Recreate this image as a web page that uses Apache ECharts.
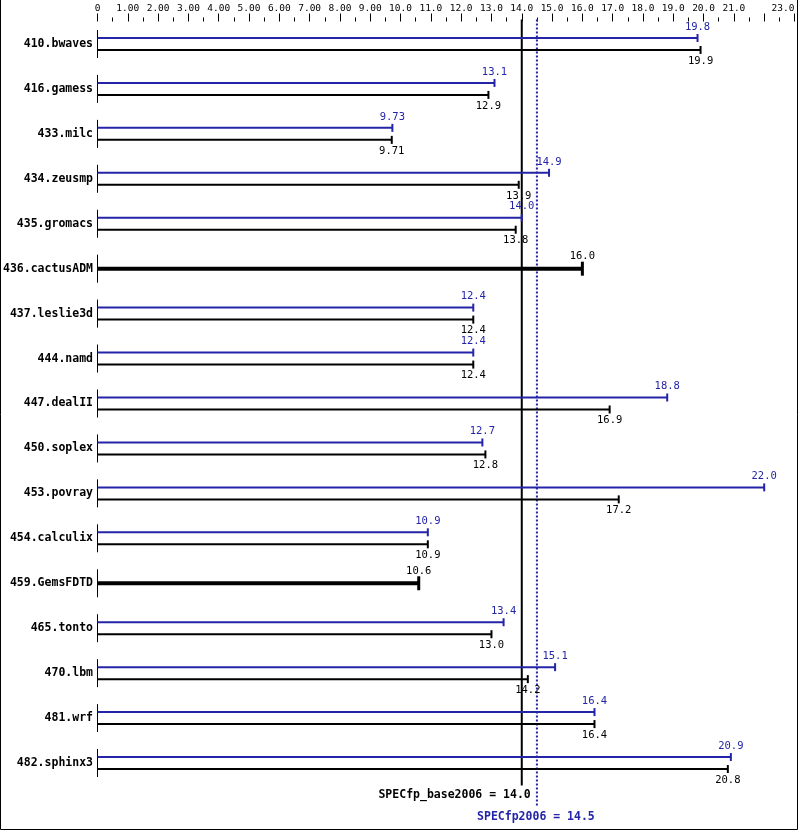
<!DOCTYPE html>
<html>
<head>
    <meta charset="UTF-8">
    <title>SPECfp2006</title>
    <script src="https://cdn.jsdelivr.net/npm/echarts@6/dist/echarts.min.js"></script>
    <style>
        body { margin: 0; background: #fff; }
        #main { width: 799px; height: 831px; }
    </style>
</head>
<body>
    <div id="main"></div>
    <script>
        var benchmarks = ['410.bwaves', '416.gamess', '433.milc', '434.zeusmp', '435.gromacs',
            '436.cactusADM', '437.leslie3d', '444.namd', '447.dealII', '450.soplex', '453.povray',
            '454.calculix', '459.GemsFDTD', '465.tonto', '470.lbm', '481.wrf', '482.sphinx3'];
        // null = no peak result (base only)
        var peakValues = [19.8, 13.1, 9.73, 14.9, 14.0, null, 12.4, 12.4, 18.8, 12.7, 22.0,
            10.9, null, 13.4, 15.1, 16.4, 20.9];
        var baseValues = [19.9, 12.9, 9.71, 13.9, 13.8, 16.0, 12.4, 12.4, 16.9, 12.8, 17.2,
            10.9, 10.6, 13.0, 14.2, 16.4, 20.8];
        var tickLabels = ['0', '1.00', '2.00', '3.00', '4.00', '5.00', '6.00', '7.00', '8.00', '9.00',
            '10.0', '11.0', '12.0', '13.0', '14.0', '15.0', '16.0', '17.0', '18.0', '19.0', '20.0',
            '21.0', '', '23.0'];
        var baseMean = 14.0;
        var peakMean = 14.5;

        var BLUE = '#2424a8';
        var MONO = 'DejaVu Sans Mono';

        function fmt(v) {
            return v < 10 ? v.toFixed(2) : v.toFixed(1);
        }

        var chart = echarts.init(document.getElementById('main'));

        function barItem(isPeak) {
            return function (params, api) {
                var v = api.value(0);
                var i = api.value(1);
                var single = api.value(2) === 1;
                var p0 = api.coord([0, i]);
                var p1 = api.coord([v, i]);
                var cy = p0[1];
                var y = single ? cy : (isPeak ? cy - 6 : cy + 6);
                var color = isPeak ? BLUE : '#000';
                var lw = single ? 4 : 2;
                var capH = single ? 14 : 8;
                var children = [];
                if (!isPeak) {
                    // left axis segment for this benchmark
                    children.push({
                        type: 'line',
                        shape: { x1: p0[0], y1: cy - 14, x2: p0[0], y2: cy + 14 },
                        style: { stroke: '#000', lineWidth: 1 }
                    });
                }
                children.push({
                    type: 'line',
                    shape: { x1: p0[0], y1: y, x2: p1[0], y2: y },
                    style: { stroke: color, lineWidth: lw }
                });
                children.push({
                    type: 'line',
                    shape: { x1: p1[0], y1: y - capH / 2, x2: p1[0], y2: y + capH / 2 },
                    style: { stroke: color, lineWidth: single ? 3 : 2 }
                });
                children.push({
                    type: 'text',
                    style: {
                        text: fmt(v),
                        x: p1[0],
                        y: (isPeak || single) ? y - 11 - (single ? 1 : 0) : y + 11,
                        align: 'center',
                        verticalAlign: 'middle',
                        font: '10.5px ' + MONO,
                        fill: color
                    }
                });
                return { type: 'group', children: children };
            };
        }

        var baseData = baseValues.map(function (v, i) {
            return [v, i, peakValues[i] == null ? 1 : 0];
        });
        var peakData = [];
        peakValues.forEach(function (v, i) {
            if (v != null) peakData.push([v, i, 0]);
        });

        var option = {
            animation: false,
            backgroundColor: '#fff',
            grid: { left: 97.5, right: 4.5, top: 21.5, bottom: 45.5 },
            xAxis: {
                type: 'value',
                position: 'top',
                min: 0,
                max: 23,
                interval: 1,
                axisLine: { show: false },
                axisTick: { show: true, length: 8, lineStyle: { color: '#000', width: 1 } },
                minorTick: { show: true, splitNumber: 2, length: 4, lineStyle: { color: '#000', width: 1 } },
                splitLine: { show: false },
                axisLabel: {
                    margin: 8,
                    color: '#000',
                    fontFamily: MONO,
                    fontSize: 9.5,
                    showMinLabel: true,
                    showMaxLabel: true,
                    alignMaxLabel: 'right',
                    formatter: function (value) {
                        return tickLabels[Math.round(value)];
                    }
                }
            },
            yAxis: {
                type: 'category',
                inverse: true,
                data: benchmarks,
                axisLine: { show: false },
                axisTick: { show: false },
                axisLabel: {
                    margin: 4.5,
                    color: '#000',
                    fontFamily: MONO,
                    fontWeight: 'bold',
                    fontSize: 11.5
                }
            },
            graphic: [{
                type: 'polyline',
                shape: { points: [[0.5, 0], [0.5, 829.5], [797.5, 829.5], [797.5, 0]] },
                style: { stroke: '#000', lineWidth: 1, fill: null }
            }],
            series: [
                {
                    name: 'mean',
                    type: 'custom',
                    clip: false,
                    data: [[baseMean, 0, 0], [peakMean, 0, 1]],
                    renderItem: function (params, api) {
                        var cs = params.coordSys;
                        var v = api.value(0);
                        var isPeak = api.value(2) === 1;
                        var x = api.coord([v, 0])[0];
                        var bottom = cs.y + cs.height;
                        if (!isPeak) {
                            return {
                                type: 'group',
                                children: [{
                                    type: 'line',
                                    shape: { x1: x, y1: cs.y - 2, x2: x, y2: bottom },
                                    style: { stroke: '#000', lineWidth: 2 }
                                }, {
                                    type: 'text',
                                    style: {
                                        text: 'SPECfp_base2006 = ' + v.toFixed(1),
                                        x: x + 9, y: bottom + 10,
                                        align: 'right', verticalAlign: 'middle',
                                        font: 'bold 11.5px ' + MONO, fill: '#000'
                                    }
                                }]
                            };
                        }
                        return {
                            type: 'group',
                            children: [{
                                type: 'line',
                                shape: { x1: x, y1: cs.y - 2, x2: x, y2: bottom + 22 },
                                style: { stroke: BLUE, lineWidth: 2, lineDash: [2, 2] }
                            }, {
                                type: 'text',
                                style: {
                                    text: 'SPECfp2006 = ' + v.toFixed(1),
                                    x: x - 1, y: bottom + 32,
                                    align: 'center', verticalAlign: 'middle',
                                    font: 'bold 11.5px ' + MONO, fill: BLUE
                                }
                            }]
                        };
                    }
                },
                {
                    name: 'base',
                    type: 'custom',
                    clip: false,
                    data: baseData,
                    renderItem: barItem(false)
                },
                {
                    name: 'peak',
                    type: 'custom',
                    clip: false,
                    data: peakData,
                    renderItem: barItem(true)
                }
            ]
        };

        chart.setOption(option);
    </script>
</body>
</html>
